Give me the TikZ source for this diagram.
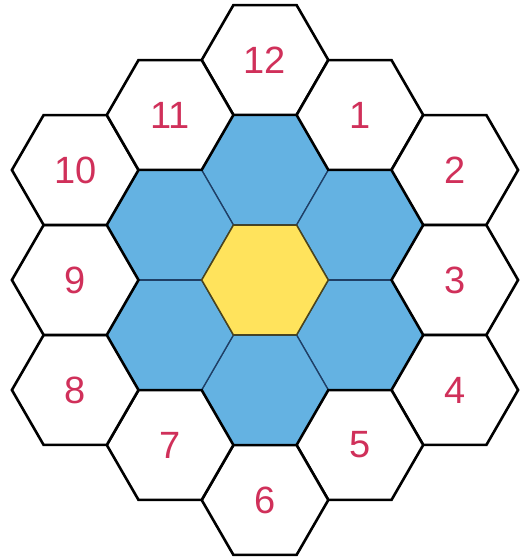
\documentclass[tikz,border=0pt]{standalone}
\usepackage{fontspec}
\setmainfont{Liberation Sans}
\usetikzlibrary{shapes.geometric}
\definecolor{hexblue}{HTML}{64B2E2}
\definecolor{hexyellow}{HTML}{FFE35C}
\definecolor{numred}{HTML}{D0305A}
\definecolor{blueline}{HTML}{1F3F66}
\tikzset{
  hexbase/.style={regular polygon, regular polygon sides=6, minimum size=126.6pt, inner sep=0pt, outer sep=0pt},
  whitehex/.style={hexbase, draw=black, line width=2.6pt, fill=white, text=numred, font=\fontsize{38}{38}\selectfont},
  bluehex/.style={hexbase, draw=blueline, line width=1.3pt, fill=hexblue},
  yellowhex/.style={hexbase, draw=black!70!hexyellow, line width=1.5pt, fill=hexyellow},
}
\begin{document}
\begin{tikzpicture}[x=1pt,y=1pt]
\useasboundingbox (0,0) rectangle (521,-559);
\fill[white] (0,0) rectangle (521,-559);
% inner ring
\node[bluehex] (b1) at (265,-170) {};
\node[bluehex] (b2) at (359.9,-225) {};
\node[bluehex] (b3) at (359.9,-335) {};
\node[bluehex] (b4) at (265,-390) {};
\node[bluehex] (b5) at (170.1,-335) {};
\node[bluehex] (b6) at (170.1,-225) {};
\node[yellowhex] (c) at (265,-280) {};
% outer ring
\node[whitehex] (h12) at (265,-60) {12};
\node[whitehex] (h1) at (359.9,-115) {1};
\node[whitehex] (h2) at (454.8,-170) {2};
\node[whitehex] (h3) at (454.8,-280) {3};
\node[whitehex] (h4) at (454.8,-390) {4};
\node[whitehex] (h5) at (359.9,-445) {5};
\node[whitehex] (h6) at (265,-500) {6};
\node[whitehex] (h7) at (170.1,-445) {7};
\node[whitehex] (h8) at (75.2,-390) {8};
\node[whitehex] (h9) at (75.2,-280) {9};
\node[whitehex] (h10) at (75.2,-170) {10};
\node[whitehex] (h11) at (170.1,-115) {11};
\end{tikzpicture}
\end{document}
